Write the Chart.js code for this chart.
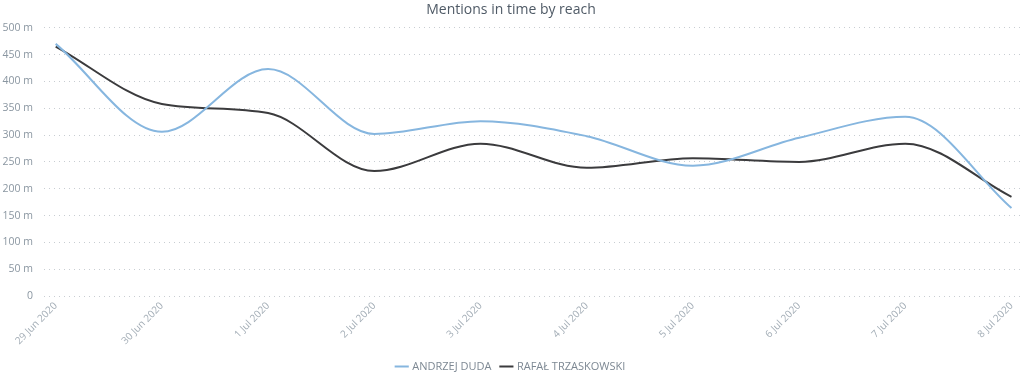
<!DOCTYPE html>
<html>
<head>
<meta charset="utf-8">
<script src="https://cdn.jsdelivr.net/npm/chart.js@4"></script>
<style>
html,body{margin:0;padding:0;background:#fff;}
#wrap{width:1024px;height:382px;position:relative;}
</style>
</head>
<body>
<div id="wrap"><canvas id="c" width="1024" height="382"></canvas></div>
<script>
const categories = ["29 Jun 2020","30 Jun 2020","1 Jul 2020","2 Jul 2020","3 Jul 2020","4 Jul 2020","5 Jul 2020","6 Jul 2020","7 Jul 2020","8 Jul 2020"];
const dudaValues = [470, 306, 423, 302, 326, 298, 243, 295, 334, 164];
const trzaskowskiValues = [465, 358, 341, 233, 284, 239, 257, 250, 284, 185];
const yTicks = [0, 50, 100, 150, 200, 250, 300, 350, 400, 450, 500];

const toPts = arr => arr.map((v, i) => ({x: i, y: v}));

new Chart(document.getElementById('c'), {
  type: 'line',
  data: {
    datasets: [
      {label: 'ANDRZEJ DUDA', data: toPts(dudaValues), borderColor: '#86b6df', backgroundColor: '#86b6df', borderWidth: 2, pointRadius: 0, cubicInterpolationMode: 'monotone', fill: false},
      {label: 'RAFAŁ TRZASKOWSKI', data: toPts(trzaskowskiValues), borderColor: '#3b3b3d', backgroundColor: '#3b3b3d', borderWidth: 2, pointRadius: 0, cubicInterpolationMode: 'monotone', fill: false}
    ]
  },
  options: {
    responsive: false,
    animation: false,
    layout: {padding: {left: 2, right: 4, top: 0, bottom: 0}},
    plugins: {
      title: {display: true, text: 'Mentions in time by reach', color: '#4f5a66', font: {family: 'Open Sans', size: 14, weight: 'normal'}, padding: {top: 2, bottom: 9}},
      legend: {position: 'bottom', labels: {usePointStyle: true, pointStyle: 'line', boxWidth: 10, boxHeight: 10, color: '#7d8893', font: {family: 'Open Sans', size: 11}, padding: 10}},
      tooltip: {enabled: false}
    },
    scales: {
      x: {
        type: 'linear', min: -0.11, max: 9.08,
        afterBuildTicks: s => { s.ticks = categories.map((c, i) => ({value: i})); },
        ticks: {callback: (v) => categories[v] ?? '', maxRotation: 45, minRotation: 45, color: '#a3adb6', font: {family: 'Open Sans', size: 10}, padding: 4},
        grid: {display: false, drawTicks: false},
        border: {display: false}
      },
      y: {
        min: 0, max: 500,
        afterBuildTicks: s => { s.ticks = yTicks.map(v => ({value: v})); },
        afterFit: s => { s.width = 42; },
        ticks: {callback: v => v === 0 ? '0' : v + ' m', color: '#8a96a1', font: {family: 'Open Sans', size: 10.5}, padding: 11},
        grid: {color: '#c8cdd2', lineWidth: 1, drawTicks: false},
        border: {display: false, dash: [1, 4]}
      }
    }
  }
});
</script>
</body>
</html>
